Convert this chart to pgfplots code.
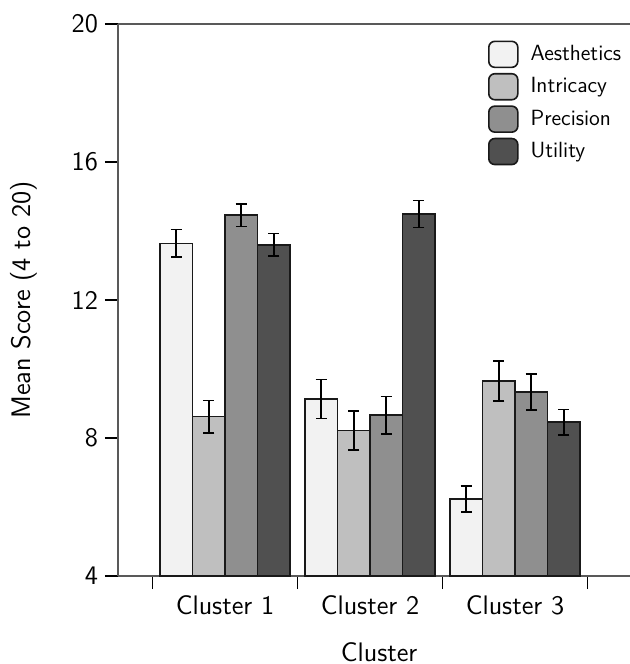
\documentclass[border=0pt]{standalone}
\usepackage{pgfplots}
\pgfplotsset{compat=1.18}
\usepackage{pgfplotstable}
\definecolor{cA}{HTML}{F2F2F2}
\definecolor{cI}{HTML}{BFBFBF}
\definecolor{cP}{HTML}{8F8F8F}
\definecolor{cU}{HTML}{505050}
\pgfplotstableread{
x y e
0 13.64 0.40
1 9.13 0.57
2 6.23 0.38
}\tA
\pgfplotstableread{
x y e
0 8.62 0.47
1 8.22 0.56
2 9.65 0.58
}\tI
\pgfplotstableread{
x y e
0 14.46 0.33
1 8.66 0.54
2 9.34 0.52
}\tP
\pgfplotstableread{
x y e
0 13.60 0.33
1 14.49 0.39
2 8.46 0.37
}\tU
\begin{document}
\begin{tikzpicture}
\begin{axis}[
  scale only axis,
  width=256pt, height=276pt,
  xmin=-0.738, xmax=2.793,
  ymin=4, ymax=20,
  ytick={4,8,12,16,20},
  xtick={-0.5,0.5,1.5,2.5},
  xticklabels={},
  extra x ticks={0,1,2},
  extra x tick labels={Cluster 1,Cluster 2,Cluster 3},
  extra x tick style={tick style={draw=none}},
  axis x line=box, axis y line=left,
  xtick pos=left, ytick pos=left,
  axis line style={-, draw=black!65, line width=0.7pt},
  every tick/.style={draw=black, line width=0.6pt},
  tick align=outside,
  major tick length=6.5pt,
  /pgf/number format/assume math mode=true,
  tick label style={font=\fontsize{13.4}{15}\sffamily},
  label style={font=\fontsize{13.4}{15}\sffamily},
  xlabel={Cluster},
  ylabel={Mean Score (4 to 20)},
  xlabel style={at={(axis description cs:0.51,-0.1377)}, anchor=center},
  ylabel style={at={(axis description cs:-0.184,0.5)}, anchor=center},
  ybar=0pt, bar width=16.25pt,
  legend style={at={(1.003,0.978)}, anchor=north east, draw=none, fill=none,
    font=\fontsize{11}{12}\sffamily, row sep=2.4pt, cells={anchor=west}},
  legend image code/.code={\draw[#1, rounded corners=3pt] (0pt,-6.5pt) rectangle (14.5pt,6.5pt); \path (18.5pt,0pt);},
  every axis plot/.append style={draw=black!90, line width=0.8pt},
  error bars/error bar style={line width=0.8pt, black},
  error bars/error mark options={rotate=90, mark size=2.8pt, line width=0.8pt, black},
]
\addplot[fill=cA, error bars/.cd, y dir=both, y explicit] table[x=x,y=y,y error=e]{\tA};
\addplot[fill=cI, error bars/.cd, y dir=both, y explicit] table[x=x,y=y,y error=e]{\tI};
\addplot[fill=cP, error bars/.cd, y dir=both, y explicit] table[x=x,y=y,y error=e]{\tP};
\addplot[fill=cU, error bars/.cd, y dir=both, y explicit] table[x=x,y=y,y error=e]{\tU};
\legend{Aesthetics,Intricacy,Precision,Utility}
\coordinate (SW) at (rel axis cs:0,0);
\coordinate (NE) at (rel axis cs:1,1);
\end{axis}
\pgfresetboundingbox
\path[use as bounding box] ([shift={(-59pt,-44pt)}]SW) rectangle ([shift={(0pt,12pt)}]NE);
\end{tikzpicture}
\end{document}
